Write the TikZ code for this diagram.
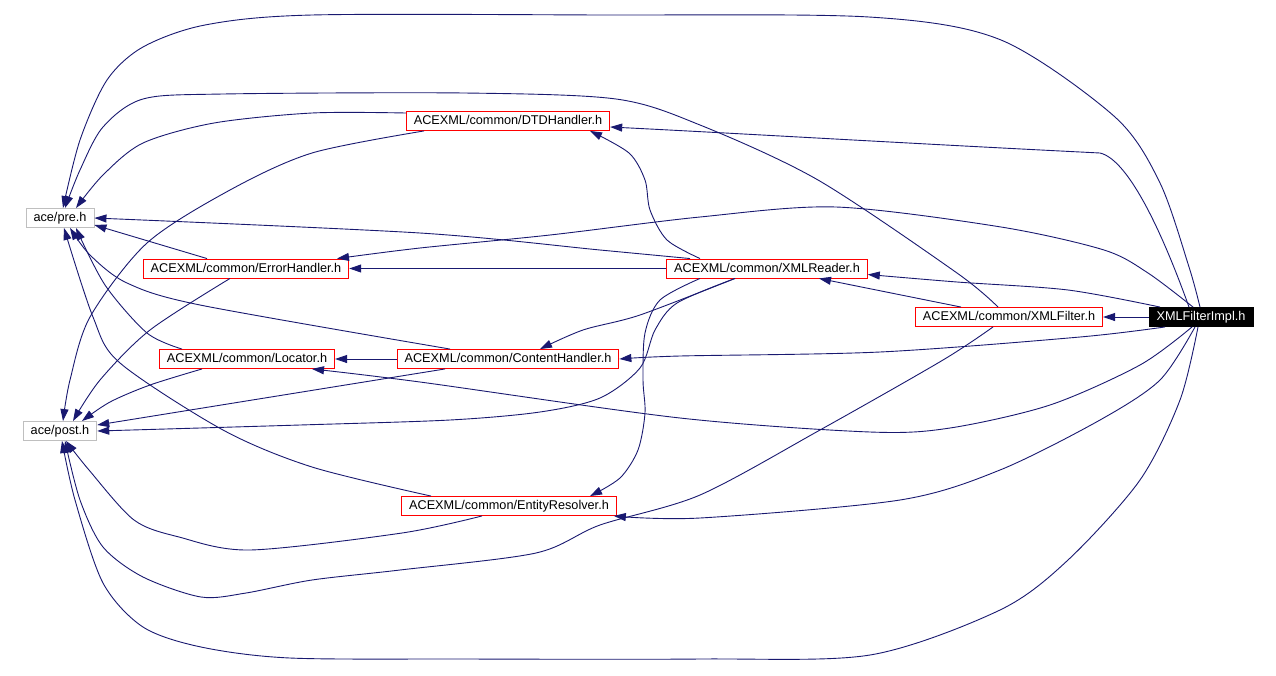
\documentclass[tikz,border=0pt]{standalone}
\usepackage{fontspec}
\setmainfont{Liberation Sans}
\usetikzlibrary{arrows.meta}
\definecolor{edgeblue}{HTML}{191970}
\definecolor{sysgray}{HTML}{BFBFBF}
\begin{document}
\begin{tikzpicture}[x=1pt,y=-1pt,
  incfile/.style={draw=red,line width=0.9pt,inner xsep=7.5pt,inner ysep=0pt,minimum height=19pt,
    text height=9.5pt,text depth=2.5pt,font=\fontsize{12.7}{14}\selectfont},
  sysfile/.style={incfile,draw=sysgray},
  mainfile/.style={incfile,draw=black,fill=black,text=white},
  dep/.style={draw=edgeblue,line width=0.9pt,-{Triangle[length=12pt,width=8pt]}}]
\useasboundingbox (0,0) rectangle (1276,675);
\node[sysfile] (pre) at (60,218) {ace/pre.h};
\node[sysfile] (post) at (60,431) {ace/post.h};
\node[incfile] (dtd) at (508,121) {ACEXML/common/DTDHandler.h};
\node[incfile] (err) at (246,268.5) {ACEXML/common/ErrorHandler.h};
\node[incfile] (rdr) at (767,268.5) {ACEXML/common/XMLReader.h};
\node[incfile] (flt) at (1009,317) {ACEXML/common/XMLFilter.h};
\node[mainfile] (impl) at (1201,317) {XMLFilterImpl.h};
\node[incfile] (loc) at (247,359) {ACEXML/common/Locator.h};
\node[incfile] (cnt) at (508,359) {ACEXML/common/ContentHandler.h};
\node[incfile] (ent) at (509,506) {ACEXML/common/EntityResolver.h};

\draw[dep] (impl) -- (flt);
\draw[dep] (rdr) -- (err);
\draw[dep] (cnt) -- (loc);
\draw[dep] ([xshift=-48pt]flt.north) -- ([xshift=52pt]rdr.south);
\draw[dep] ([xshift=-39pt]err.north) -- ([yshift=-7pt]pre.east);
\draw[dep] ([xshift=-63pt]cnt.south) -- ([yshift=6pt]post.east);

\draw[dep] plot[smooth] coordinates {([xshift=-1pt]impl.north) (1189,267) (1160,183) (1115,117)
  (1001,40) (869,17) (600,15) (312,15) (205,25) (143,47) (107,80) (80,140) ([xshift=3pt]pre.north)};
\draw[dep] plot[smooth] coordinates {([xshift=-3pt]impl.south) (1180,400) (1140,480) (1068,560) (1000,610)
  (870,655) (700,659) (464,659) (290,658) (201,647) (143,627) (103,583) (75,500) ([xshift=2pt]post.south)};
\draw[dep] plot[smooth] coordinates {([xshift=-41pt]impl.north) (1068,290) (957,282) ([yshift=-6pt]rdr.east)};
\draw[dep] ([xshift=-12pt]impl.north) .. controls (1165,240) and (1130,160) .. (1100,153)
  .. controls (900,143) and (750,134) .. ([yshift=-6pt]dtd.east);
\draw[dep] plot[smooth] coordinates {([xshift=-8pt]impl.north) (1148,273) (1104,250) (1001,227) (836,207)
  (700,217) (550,235) (420,248) ([xshift=91pt]err.north)};
\draw[dep] plot[smooth] coordinates {([xshift=-36pt]impl.south) (1080,337) (880,352) (680,356) (cnt.east)};
\draw[dep] plot[smooth] coordinates {([xshift=-9pt]impl.south) (1140,365) (1050,405) (950,428) (870,432)
  (680,418) (420,382) ([xshift=65pt]loc.south)};
\draw[dep] plot[smooth] coordinates {([xshift=-6pt]impl.south) (1160,380) (1100,420) (1000,470) (900,500)
  (700,518) ([xshift=-3pt]ent.south east)};

\draw[dep] plot[smooth] coordinates {([xshift=-11pt]flt.north) (957,273) (818,180) (700,125) (616,99)
  (464,93) (223,94) (143,99) (103,127) (80,170) ([xshift=5pt]pre.north)};
\draw[dep] plot[smooth] coordinates {([xshift=-16pt]flt.south) (943,360) (820,430) (700,495) (600,525)
  (536,553) (400,570) (312,580) (246,593) (201,597) (143,577) (103,547) (80,500) ([xshift=5pt]post.south)};

\draw[dep] plot[smooth] coordinates {([xshift=-77pt]rdr.north) (600,250) (420,233) (pre.east)};
\draw[dep] plot[smooth] coordinates {([xshift=-67pt]rdr.north) (667,240) (650,210) (645,180) (629,153)
  ([xshift=82pt]dtd.south)};
\draw[dep] plot[smooth] coordinates {([xshift=-32pt]rdr.south) (640,315) (583,330) ([xshift=32pt]cnt.north)};
\draw[dep] plot[smooth] coordinates {([xshift=-67pt]rdr.south) (660,300) (645,333) (643,380) (645,413)
  (638,450) (620,478) ([xshift=81pt]ent.north)};
\draw[dep] plot[smooth] coordinates {([xshift=-32pt]rdr.south) (677,303) (655,330) (640,368) (600,398)
  (540,412) (450,420) (300,425) (post.east)};

\draw[dep] plot[smooth] coordinates {([yshift=8pt]dtd.west) (312,113) (214,123) (143,143) (103,175)
  ([xshift=16pt]pre.north)};
\draw[dep] plot[smooth] coordinates {([xshift=-84pt]dtd.south) (312,153) (230,190) (147,243) (90,317)
  (70,380) ([xshift=3pt]post.north)};

\draw[dep] plot[smooth] coordinates {([xshift=-16pt]err.south) (150,330) (100,380) ([xshift=13pt]post.north)};

\draw[dep] plot[smooth] coordinates {([xshift=-58pt]cnt.north) (200,305) (127,283) (90,255)
  ([xshift=10pt]pre.south)};
\draw[dep] plot[smooth] coordinates {([xshift=-65pt]loc.north) (147,333) (105,285) ([xshift=16pt]pre.south)};
\draw[dep] plot[smooth] coordinates {([xshift=-45pt]loc.south) (150,385) (110,402) ([xshift=22pt]post.north)};

\draw[dep] plot[smooth] coordinates {([xshift=-78pt]ent.north) (312,467) (223,430) (120,363) (93,317)
  ([xshift=4pt]pre.south)};
\draw[dep] plot[smooth] coordinates {([xshift=-27pt]ent.south) (402,533) (250,550) (179,537) (134,520)
  (89,470) ([xshift=6pt]post.south)};
\end{tikzpicture}
\end{document}
